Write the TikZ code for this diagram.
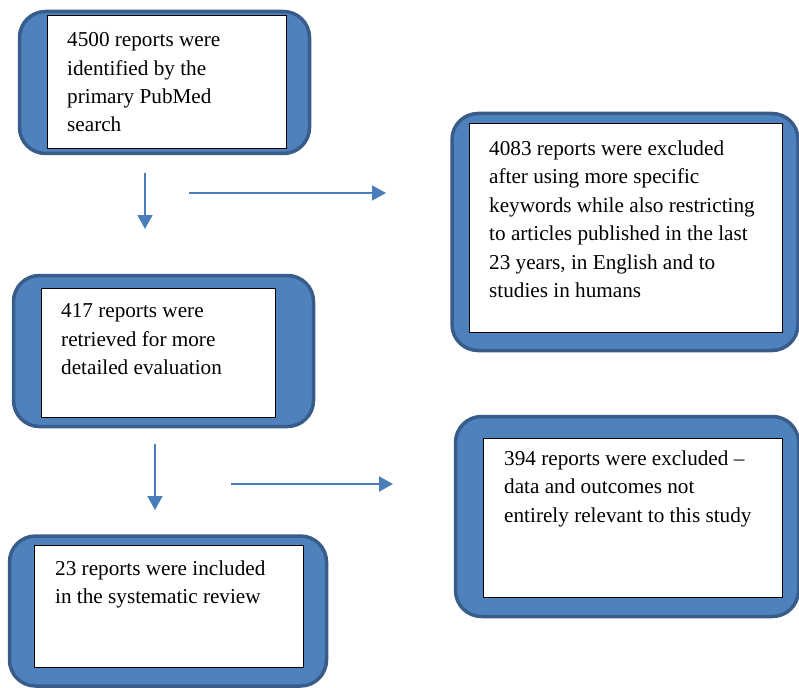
\documentclass[tikz,border=0pt]{standalone}
\usepackage{fontspec}
\setmainfont{Liberation Serif}
\usetikzlibrary{arrows.meta}
\definecolor{boxblue}{HTML}{4F81BD}
\definecolor{boxedge}{HTML}{385D8A}
\definecolor{arrowblue}{HTML}{4A7EBB}
\begin{document}
\begin{tikzpicture}[x=1pt,y=-1pt,
  panel/.style={draw=boxedge, line width=3.5pt, fill=boxblue, rounded corners=26pt, inner sep=0pt},
  sheet/.style={draw=black, line width=1pt, fill=white, inner sep=0pt},
  note/.style={anchor=north west, align=left, inner sep=0pt, font=\fontsize{21.2}{28.4}\selectfont},
  flow/.style={draw=arrowblue, line width=1.8pt, -{Triangle[length=14pt,width=15pt]}}]
\useasboundingbox (0,0) rectangle (799,687);
% search
\node[panel, minimum width=290pt, minimum height=142pt] (o1) at (164.5,82.5) {};
\node[sheet, minimum width=239pt, minimum height=133pt] (b1) at (166.5,82.5) {};
\node[note] (t1) at (67,32.5) {4500 reports were\\identified by the\\primary PubMed\\search};
% excluded by keywords
\node[panel, minimum width=346pt, minimum height=237pt] (o2) at (625,232) {};
\node[sheet, minimum width=313pt, minimum height=208pt] (b2) at (625.5,228) {};
\node[note] (t2) at (489,140.5) {4083 reports were excluded\\after using more specific\\keywords while also restricting\\to articles published in the last\\23 years, in English and to\\studies in humans};
% retrieved
\node[panel, minimum width=300pt, minimum height=151pt] (o3) at (163.5,351) {};
\node[sheet, minimum width=234pt, minimum height=129pt] (b3) at (158,352.5) {};
\node[note] (t3) at (61,303.5) {417 reports were\\retrieved for more\\detailed evaluation};
% excluded as not relevant
\node[panel, minimum width=343pt, minimum height=200pt] (o4) at (627,516.5) {};
\node[sheet, minimum width=299pt, minimum height=159pt] (b4) at (632.5,517.5) {};
\node[note] (t4) at (504,450.5) {394 reports were excluded --\\data and outcomes not\\entirely relevant to this study};
% included
\node[panel, minimum width=317pt, minimum height=150pt] (o5) at (168,611) {};
\node[sheet, minimum width=269pt, minimum height=122pt] (b5) at (168.5,606) {};
\node[note] (t5) at (55,560.5) {23 reports were included\\in the systematic review};
% arrows
\coordinate (d1s) at (145,173);
\coordinate (d1e) at (145,229);
\coordinate (r1s) at (189,193);
\coordinate (r1e) at (386,193);
\coordinate (d2s) at (155,444);
\coordinate (d2e) at (155,510);
\coordinate (r2s) at (231,484);
\coordinate (r2e) at (393,484);
\draw[flow] (d1s) -- (d1e);
\draw[flow] (r1s) -- (r1e);
\draw[flow] (d2s) -- (d2e);
\draw[flow] (r2s) -- (r2e);
\end{tikzpicture}
\end{document}
